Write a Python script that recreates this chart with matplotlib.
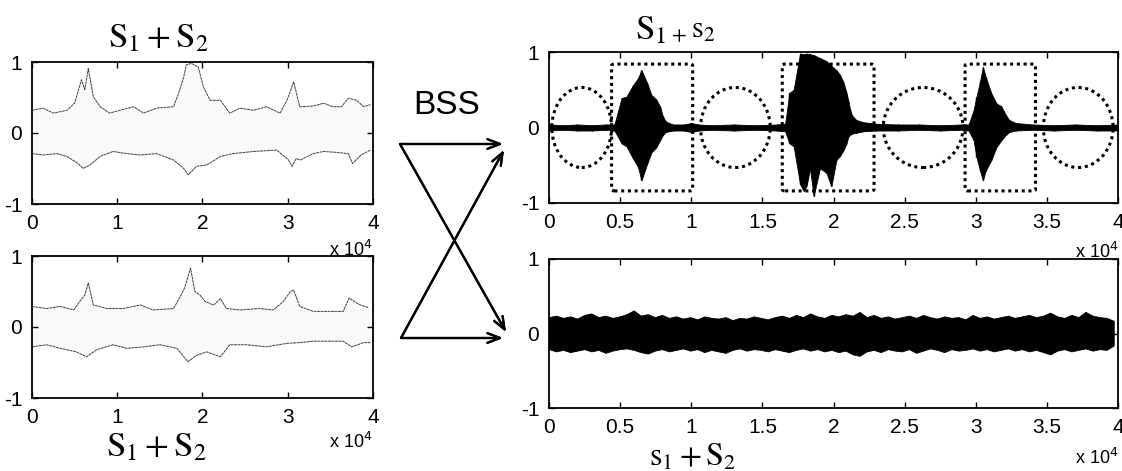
import numpy as np
import matplotlib.pyplot as plt
from matplotlib.patches import Ellipse, FancyBboxPatch

plt.rcParams['font.family'] = ['Liberation Sans', 'DejaVu Sans']
plt.rcParams['mathtext.fontset'] = 'stix'

W, H = 1122, 471

# ---- left mixtures: upper / lower envelopes (x in units of 1e4 samples)
mix1_x_up = [0.00, 0.13, 0.25, 0.41, 0.50, 0.58, 0.62, 0.66, 0.72, 0.80, 0.91, 1.03,
             1.19, 1.31, 1.46, 1.66, 1.72, 1.78, 1.81, 1.87, 1.95, 2.01, 2.09, 2.21,
             2.32, 2.44, 2.60, 2.75, 2.91, 2.99, 3.07, 3.14, 3.30, 3.42, 3.53, 3.63,
             3.71, 3.81, 3.89, 3.97]
mix1_up = [0.32, 0.35, 0.28, 0.32, 0.42, 0.75, 0.61, 0.91, 0.51, 0.37, 0.28, 0.32,
           0.37, 0.28, 0.35, 0.37, 0.56, 0.79, 0.96, 0.98, 0.93, 0.65, 0.46, 0.46,
           0.28, 0.35, 0.32, 0.37, 0.28, 0.46, 0.72, 0.37, 0.38, 0.42, 0.37, 0.37,
           0.49, 0.46, 0.37, 0.40]
mix1_x_lo = [0.00, 0.13, 0.29, 0.41, 0.54, 0.60, 0.68, 0.80, 0.95, 1.11, 1.27, 1.46,
             1.66, 1.78, 1.83, 1.93, 2.05, 2.21, 2.36, 2.60, 2.87, 3.01, 3.05, 3.10,
             3.15, 3.30, 3.42, 3.54, 3.71, 3.76, 3.86, 3.97]
mix1_lo = [-0.29, -0.31, -0.29, -0.33, -0.43, -0.50, -0.45, -0.33, -0.26, -0.29, -0.31,
           -0.29, -0.38, -0.50, -0.59, -0.47, -0.45, -0.33, -0.29, -0.26, -0.24, -0.38,
           -0.47, -0.36, -0.38, -0.29, -0.26, -0.27, -0.29, -0.43, -0.31, -0.24]

mix2_x_up = [0.00, 0.17, 0.33, 0.49, 0.56, 0.62, 0.66, 0.72, 0.88, 1.07, 1.27, 1.42,
             1.66, 1.74, 1.79, 1.86, 1.91, 1.97, 2.03, 2.13, 2.21, 2.28, 2.44, 2.67,
             2.83, 2.95, 3.03, 3.07, 3.14, 3.30, 3.50, 3.65, 3.72, 3.83, 3.95]
mix2_up = [0.29, 0.26, 0.29, 0.24, 0.36, 0.45, 0.62, 0.31, 0.26, 0.26, 0.31, 0.24,
           0.26, 0.43, 0.55, 0.83, 0.50, 0.45, 0.36, 0.31, 0.40, 0.26, 0.24, 0.26,
           0.24, 0.36, 0.50, 0.52, 0.29, 0.22, 0.22, 0.22, 0.41, 0.32, 0.27]
mix2_x_lo = [0.00, 0.17, 0.33, 0.52, 0.64, 0.76, 0.95, 1.11, 1.31, 1.50, 1.70, 1.78,
             1.83, 1.93, 2.05, 2.21, 2.32, 2.52, 2.75, 2.99, 3.14, 3.30, 3.50, 3.65,
             3.75, 3.89, 3.97]
mix2_lo = [-0.28, -0.25, -0.30, -0.35, -0.42, -0.32, -0.25, -0.30, -0.28, -0.25, -0.30,
           -0.42, -0.49, -0.40, -0.35, -0.42, -0.25, -0.25, -0.28, -0.23, -0.22, -0.20,
           -0.20, -0.20, -0.28, -0.22, -0.22]

# ---- separated source 1 (speech bursts), envelope
src1_x = [0.00, 0.10, 0.20, 0.30, 0.40, 0.46, 0.51, 0.545, 0.59, 0.625, 0.65, 0.69,
          0.72, 0.755, 0.78, 0.80, 0.82, 0.87, 0.95, 1.00, 1.05, 1.15, 1.30, 1.45,
          1.60, 1.66, 1.69, 1.72, 1.765, 1.79, 1.81, 1.835, 1.86, 1.905, 1.95, 1.985,
          2.02, 2.045, 2.07, 2.09, 2.105, 2.115, 2.13, 2.16, 2.21, 2.30, 2.45, 2.60,
          2.75, 2.90, 2.95, 2.985, 3.005, 3.03, 3.05, 3.07, 3.11, 3.145, 3.18, 3.21,
          3.235, 3.28, 3.40, 3.55, 3.70, 3.85, 4.00]
src1_up = [0.04, 0.03, 0.04, 0.03, 0.04, 0.04, 0.39, 0.41, 0.56, 0.65, 0.76, 0.59,
           0.43, 0.37, 0.28, 0.15, 0.08, 0.04, 0.04, 0.06, 0.04, 0.03, 0.04, 0.03,
           0.04, 0.05, 0.46, 0.50, 0.98, 0.97, 0.98, 0.97, 0.96, 0.92, 0.88, 0.82,
           0.76, 0.70, 0.60, 0.47, 0.35, 0.25, 0.16, 0.10, 0.07, 0.05, 0.04, 0.04,
           0.03, 0.04, 0.04, 0.23, 0.41, 0.61, 0.80, 0.67, 0.45, 0.32, 0.28, 0.17,
           0.10, 0.06, 0.04, 0.03, 0.04, 0.03, 0.04]
src1_lo = [-0.04, -0.03, -0.04, -0.04, -0.03, -0.04, -0.21, -0.25, -0.41, -0.52, -0.70,
           -0.48, -0.33, -0.26, -0.17, -0.10, -0.06, -0.04, -0.04, -0.06, -0.04, -0.03,
           -0.04, -0.03, -0.04, -0.05, -0.21, -0.25, -0.75, -0.84, -0.78, -0.54, -0.91,
           -0.54, -0.60, -0.78, -0.43, -0.38, -0.30, -0.22, -0.12, -0.10, -0.08, -0.07,
           -0.05, -0.04, -0.04, -0.03, -0.04, -0.03, -0.04, -0.17, -0.39, -0.57, -0.70,
           -0.57, -0.43, -0.26, -0.17, -0.10, -0.06, -0.04, -0.03, -0.04, -0.03, -0.04,
           -0.04]

# dotted marks on the first separated signal: ellipses (silence) and boxes (speech)
ell_cx = [0.23, 1.31, 2.63, 3.72]
ell_w = [0.42, 0.49, 0.56, 0.49]
ell_h = [1.06, 1.06, 1.06, 1.06]
box_x0 = [0.44, 1.64, 2.925]
box_x1 = [1.01, 2.285, 3.42]
box_y = [-0.84, 0.84]

# ---- separated source 2 (noise), envelope every 0.05e4
src2_up = [0.22, 0.24, 0.21, 0.23, 0.20, 0.25, 0.27, 0.22, 0.24, 0.21,
           0.23, 0.26, 0.31, 0.24, 0.26, 0.22, 0.25, 0.21, 0.23, 0.20,
           0.22, 0.19, 0.23, 0.21, 0.20, 0.22, 0.18, 0.21, 0.20, 0.23,
           0.21, 0.19, 0.22, 0.24, 0.21, 0.25, 0.22, 0.27, 0.23, 0.21,
           0.25, 0.23, 0.26, 0.24, 0.29, 0.22, 0.25, 0.21, 0.23, 0.20,
           0.22, 0.24, 0.21, 0.25, 0.22, 0.20, 0.23, 0.21, 0.22, 0.19,
           0.25, 0.21, 0.23, 0.20, 0.22, 0.24, 0.21, 0.23, 0.25, 0.22,
           0.24, 0.28, 0.23, 0.21, 0.25, 0.22, 0.29, 0.24, 0.22, 0.21,
           0.17]
src2_lo = [-0.21, -0.24, -0.22, -0.25, -0.23, -0.21, -0.24, -0.22, -0.26, -0.23,
           -0.21, -0.20, -0.22, -0.25, -0.27, -0.23, -0.21, -0.24, -0.22, -0.20,
           -0.23, -0.21, -0.25, -0.22, -0.24, -0.26, -0.22, -0.20, -0.23, -0.21,
           -0.22, -0.24, -0.21, -0.23, -0.25, -0.22, -0.20, -0.23, -0.21, -0.24,
           -0.22, -0.25, -0.23, -0.28, -0.30, -0.24, -0.22, -0.25, -0.21, -0.23,
           -0.24, -0.21, -0.26, -0.23, -0.20, -0.22, -0.25, -0.21, -0.23, -0.22,
           -0.20, -0.23, -0.21, -0.24, -0.22, -0.20, -0.23, -0.21, -0.24, -0.22,
           -0.25, -0.28, -0.23, -0.21, -0.24, -0.22, -0.20, -0.23, -0.21, -0.22,
           -0.16]
src2_x = np.linspace(0, 3.97, len(src2_up))

left_ticks = [0, 1, 2, 3, 4]
left_labels = ['0', '1', '2', '3', '4']
right_ticks = [0, 0.5, 1, 1.5, 2, 2.5, 3, 3.5, 4]
right_labels = ['0', '0.5', '1', '1.5', '2', '2.5', '3', '3.5', '4']


def px_axes(fig, x0, y0, x1, y1):
    # pixel box (top-left origin) -> figure axes
    return fig.add_axes([x0 / W, 1 - y1 / H, (x1 - x0) / W, (y1 - y0) / H])


def style(ax, ticks, labels):
    ax.set_xlim(0, 4)
    ax.set_ylim(-1, 1)
    ax.set_xticks(ticks)
    ax.set_xticklabels(labels)
    ax.set_yticks([-1, 0, 1])
    ax.set_yticklabels(['-1', '0', '1'])
    ax.tick_params(direction='in', top=True, right=True, length=4, width=1,
                   labelsize=15, pad=7)
    for s in ax.spines.values():
        s.set_linewidth(1.3)


def mixture(ax, xu, yu, xl, yl):
    xs = np.union1d(xu, xl)
    ax.fill_between(xs, np.interp(xs, xl, yl), np.interp(xs, xu, yu),
                    color='#f9f9f9', lw=0)
    ax.plot(xu, yu, color='0.25', lw=0.7, ls=(0, (3, 0.6)))
    ax.plot(xl, yl, color='0.25', lw=0.7, ls=(0, (3, 0.6)))


fig = plt.figure(figsize=(W / 100, H / 100), dpi=100)

ax1 = px_axes(fig, 32, 62, 373, 204)
mixture(ax1, mix1_x_up, mix1_up, mix1_x_lo, mix1_lo)
style(ax1, left_ticks, left_labels)

ax2 = px_axes(fig, 32, 256, 373, 398)
mixture(ax2, mix2_x_up, mix2_up, mix2_x_lo, mix2_lo)
style(ax2, left_ticks, left_labels)

ax3 = px_axes(fig, 549, 52, 1118, 203)
ax3.fill_between(src1_x, src1_lo, src1_up, color='black', lw=0.6, edgecolor='black')
ax3.vlines(src1_x, src1_lo, src1_up, color='black', lw=1)
for cx, w, h in zip(ell_cx, ell_w, ell_h):
    ax3.add_patch(Ellipse((cx, 0), w, h, fill=False, ls=(0, (1, 1.2)), lw=2.2, color='black'))
for a, b in zip(box_x0, box_x1):
    ax3.add_patch(FancyBboxPatch((a, box_y[0]), b - a, box_y[1] - box_y[0],
                                 boxstyle='round,pad=0,rounding_size=0.02',
                                 fill=False, ls=(0, (1, 1.2)), lw=2.2, color='black'))
style(ax3, right_ticks, right_labels)

ax4 = px_axes(fig, 549, 259, 1118, 408)
ax4.fill_between(src2_x, src2_lo, src2_up, color='black', lw=0.6, edgecolor='black')
style(ax4, right_ticks, right_labels)

# exponent labels
for x, y in [(372, 250), (1118, 252), (372, 442), (1118, 458)]:
    fig.text(x / W, 1 - y / H, r'x 10$^{4}$', ha='right', va='center', fontsize=13,
             math_fontfamily='dejavusans')

# titles
fig.text(158 / W, 1 - 38 / H, r'$\mathrm{S}_1 + \mathrm{S}_2$', ha='center', va='center',
         fontsize=25)
fig.text(156 / W, 1 - 447 / H, r'$\mathrm{S}_1 + \mathrm{S}_2$', ha='center', va='center',
         fontsize=25)
fig.text(635 / W, 1 - 30 / H, r'$\mathrm{S}_1$', ha='left', va='center', fontsize=25)
fig.text(671 / W, 1 - 30 / H, r'$_{+}\,\mathrm{s}_2$', ha='left', va='center', fontsize=22)
fig.text(693 / W, 1 - 458 / H, r'$\mathrm{s}_1 + \mathrm{S}_2$', ha='center', va='center',
         fontsize=23)

# BSS block with crossing arrows
fig.text(447 / W, 1 - 105 / H, 'BSS', ha='center', va='center', fontsize=24)
arrows = [((400, 144), (503, 144)), ((400, 144), (506, 332)),
          ((401, 338), (503, 338)), ((401, 338), (504, 150))]
for (xa, ya), (xb, yb) in arrows:
    fig.add_artist(plt.annotate('', xy=(xb / W, 1 - yb / H), xytext=(xa / W, 1 - ya / H),
                                xycoords='figure fraction', textcoords='figure fraction',
                                arrowprops=dict(arrowstyle='->,head_length=0.9,head_width=0.35',
                                                lw=1.6, color='black',
                                                shrinkA=0, shrinkB=0)))

fig.savefig('out.png', dpi=100)
